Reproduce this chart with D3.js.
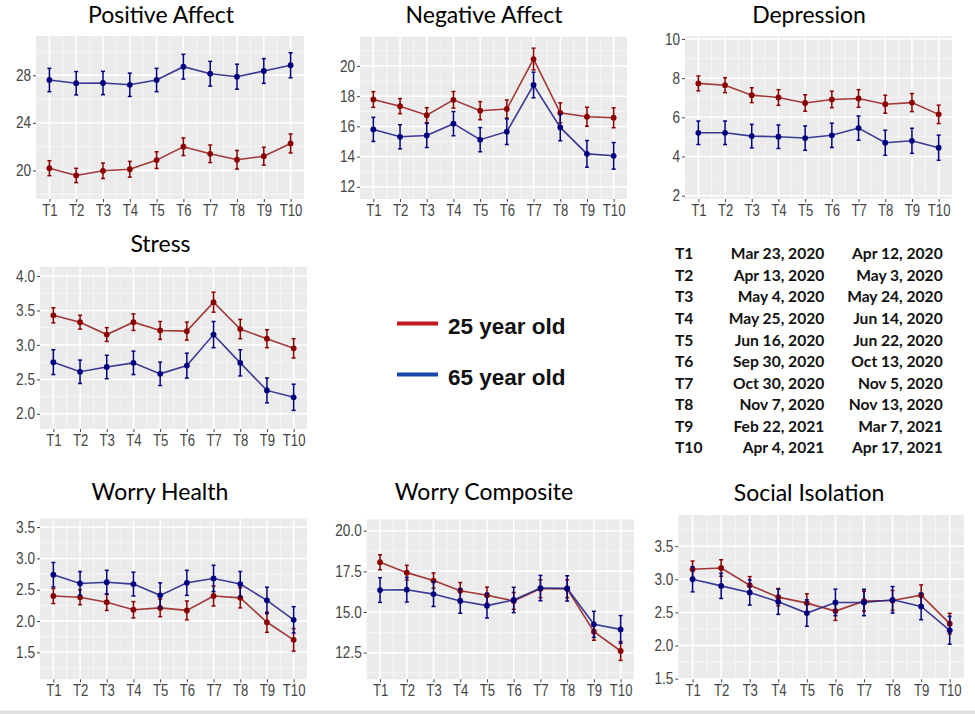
<!DOCTYPE html>
<html>
<head>
<meta charset="utf-8">
<script src="https://cdn.jsdelivr.net/npm/d3@7"></script>
<style>
  html, body { margin: 0; padding: 0; background: #ffffff; }
  svg { display: block; }
</style>
</head>
<body>
<svg id="chart" width="975" height="714"></svg>
<script>
// ---------------- DATA ----------------
const times = ["T1","T2","T3","T4","T5","T6","T7","T8","T9","T10"];
const groupLabels = ["25 year old", "65 year old"];

const posAff25    = [20.19,19.58,19.97,20.10,20.87,21.99,21.40,20.90,21.20,22.27];
const posAff25Err = [0.63,0.60,0.65,0.66,0.70,0.74,0.74,0.78,0.75,0.80];
const posAff65    = [27.60,27.33,27.35,27.20,27.60,28.72,28.13,27.88,28.36,28.84];
const posAff65Err = [0.98,0.98,0.98,0.98,0.98,1.04,1.04,1.05,1.04,1.05];

const negAff25    = [17.78,17.34,16.74,17.76,17.04,17.15,20.46,16.90,16.64,16.57];
const negAff25Err = [0.52,0.50,0.50,0.55,0.60,0.60,0.72,0.66,0.63,0.66];
const negAff65    = [15.80,15.31,15.40,16.18,15.12,15.65,18.74,15.93,14.18,14.05];
const negAff65Err = [0.80,0.80,0.80,0.80,0.80,0.85,0.85,0.88,0.88,0.88];

const dep25    = [7.73,7.64,7.13,7.01,6.73,6.91,6.96,6.67,6.75,6.15];
const dep25Err = [0.38,0.38,0.38,0.40,0.42,0.42,0.45,0.46,0.46,0.47];
const dep65    = [5.21,5.21,5.04,5.01,4.94,5.08,5.45,4.70,4.80,4.45];
const dep65Err = [0.60,0.60,0.60,0.60,0.62,0.62,0.62,0.64,0.64,0.64];

const stress25    = [3.43,3.33,3.15,3.33,3.21,3.20,3.62,3.23,3.09,2.95];
const stress25Err = [0.11,0.10,0.10,0.12,0.13,0.13,0.145,0.14,0.13,0.14];
const stress65    = [2.75,2.61,2.68,2.74,2.58,2.70,3.15,2.74,2.34,2.24];
const stress65Err = [0.18,0.17,0.17,0.17,0.17,0.18,0.19,0.19,0.18,0.19];

const worryH25    = [2.40,2.38,2.30,2.18,2.21,2.17,2.40,2.37,1.98,1.70];
const worryH25Err = [0.12,0.12,0.13,0.13,0.14,0.15,0.16,0.16,0.16,0.18];
const worryH65    = [2.74,2.60,2.62,2.59,2.41,2.61,2.68,2.59,2.33,2.02];
const worryH65Err = [0.195,0.19,0.19,0.19,0.20,0.20,0.21,0.20,0.21,0.21];

const worryC25    = [18.06,17.42,16.93,16.31,16.03,15.68,16.43,16.43,13.79,12.60];
const worryC25Err = [0.46,0.45,0.47,0.50,0.50,0.52,0.55,0.55,0.53,0.58];
const worryC65    = [16.35,16.37,16.10,15.68,15.39,15.74,16.47,16.45,14.24,13.93];
const worryC65Err = [0.76,0.76,0.76,0.76,0.76,0.78,0.78,0.78,0.80,0.85];

const socIso25    = [3.15,3.17,2.91,2.73,2.64,2.52,2.67,2.68,2.76,2.33];
const socIso25Err = [0.125,0.125,0.13,0.13,0.14,0.14,0.15,0.15,0.155,0.155];
const socIso65    = [3.00,2.90,2.80,2.66,2.49,2.65,2.65,2.69,2.59,2.23];
const socIso65Err = [0.19,0.19,0.19,0.19,0.20,0.20,0.20,0.20,0.20,0.21];

const paTicks = [20, 24, 28];
const naTicks = [12, 14, 16, 18, 20];
const depTicks = [2, 4, 6, 8, 10];
const stressTicks = [2.0, 2.5, 3.0, 3.5, 4.0];
const whTicks = [1.5, 2.0, 2.5, 3.0, 3.5];
const wcTicks = [12.5, 15.0, 17.5, 20.0];
const siTicks = [1.5, 2.0, 2.5, 3.0, 3.5];

const periodStart = ["Mar 23, 2020","Apr 13, 2020","May 4, 2020","May 25, 2020","Jun 16, 2020",
                     "Sep 30, 2020","Oct 30, 2020","Nov 7, 2020","Feb 22, 2021","Apr 4, 2021"];
const periodEnd   = ["Apr 12, 2020","May 3, 2020","May 24, 2020","Jun 14, 2020","Jun 22, 2020",
                     "Oct 13, 2020","Nov 5, 2020","Nov 13, 2020","Mar 7, 2021","Apr 17, 2021"];

// ---------------- LAYOUT / STYLE ----------------
const COL25 = "#8b0000", COL65 = "#00007f";
const LINE25 = "#9a2424", LINE65 = "#26268a";
const LEG25 = "#c4161c", LEG65 = "#1747ad";
const TICKFONT = "'Liberation Sans', Arial, sans-serif";
const TITLEFONT = "Lato, 'Open Sans', sans-serif";

const panels = [
  { title: "Positive Affect", tx: 161, ty: 22.5, box: [36, 304, 36, 199], yDom: [17.6, 31.3], ticks: paTicks, fmt: d3.format("d"),
    s25: posAff25, e25: posAff25Err, s65: posAff65, e65: posAff65Err },
  { title: "Negative Affect", tx: 484, ty: 23, box: [360, 627, 36.7, 199], yDom: [11.19, 21.94], ticks: naTicks, fmt: d3.format("d"),
    s25: negAff25, e25: negAff25Err, s65: negAff65, e65: negAff65Err },
  { title: "Depression", tx: 809, ty: 23, box: [685, 952, 36, 199], yDom: [1.83, 10.15], ticks: depTicks, fmt: d3.format("d"),
    s25: dep25, e25: dep25Err, s65: dep65, e65: dep65Err },
  { title: "Stress", tx: 160.5, ty: 252, box: [40, 307, 266.7, 429], yDom: [1.78, 4.135], ticks: stressTicks, fmt: d3.format(".1f"),
    s25: stress25, e25: stress25Err, s65: stress65, e65: stress65Err },
  { title: "Worry Health", tx: 160, ty: 500, box: [40, 307, 518.3, 679.3], yDom: [1.07, 3.64], ticks: whTicks, fmt: d3.format(".1f"),
    s25: worryH25, e25: worryH25Err, s65: worryH65, e65: worryH65Err },
  { title: "Worry Composite", tx: 484, ty: 500, box: [366.7, 634, 519.3, 679.3], yDom: [10.86, 20.7], ticks: wcTicks, fmt: d3.format(".1f"),
    s25: worryC25, e25: worryC25Err, s65: worryC65, e65: worryC65Err },
  { title: "Social Isolation", tx: 809, ty: 500.7, box: [678.3, 964, 515, 679.3], yDom: [1.49, 3.97], ticks: siTicks, fmt: d3.format(".1f"),
    s25: socIso25, e25: socIso25Err, s65: socIso65, e65: socIso65Err }
];

const svg = d3.select("#chart");

// bottom separator line
svg.append("rect").attr("x", 0).attr("y", 710.5).attr("width", 975).attr("height", 3.5).attr("fill", "#e2e2e2");

panels.forEach(p => {
  const [x0, x1, y0, y1] = p.box;
  const g = svg.append("g");
  const idx = d3.range(1, 11);
  const x = d3.scaleLinear().domain([0.5, 10.5]).range([x0, x1]);
  const y = d3.scaleLinear().domain(p.yDom).range([y1, y0]);

  // background
  g.append("rect").attr("x", x0).attr("y", y0).attr("width", x1 - x0).attr("height", y1 - y0).attr("fill", "#ebebeb");

  // minor grid
  const step = p.ticks[1] - p.ticks[0];
  const minorY = d3.range(p.ticks[0] - step / 2, p.ticks[p.ticks.length - 1] + step, step)
    .filter(v => v > p.yDom[0] && v < p.yDom[1]);
  g.selectAll(".mny").data(minorY).join("line")
    .attr("x1", x0).attr("x2", x1).attr("y1", d => y(d)).attr("y2", d => y(d))
    .attr("stroke", "#f7f7f7").attr("stroke-width", 0.8);
  const minorX = d3.range(1.5, 10.5, 1);
  g.selectAll(".mnx").data(minorX).join("line")
    .attr("y1", y0).attr("y2", y1).attr("x1", d => x(d)).attr("x2", d => x(d))
    .attr("stroke", "#f7f7f7").attr("stroke-width", 0.8);
  // major grid
  g.selectAll(".mjy").data(p.ticks).join("line")
    .attr("x1", x0).attr("x2", x1).attr("y1", d => y(d)).attr("y2", d => y(d))
    .attr("stroke", "#ffffff").attr("stroke-width", 1.5);
  g.selectAll(".mjx").data(idx).join("line")
    .attr("y1", y0).attr("y2", y1).attr("x1", d => x(d)).attr("x2", d => x(d))
    .attr("stroke", "#ffffff").attr("stroke-width", 1.5);

  // axes (ticks only, no domain line)
  const yAxis = d3.axisLeft(y).tickValues(p.ticks).tickFormat(p.fmt).tickSize(3).tickPadding(2);
  const ya = g.append("g").attr("transform", `translate(${x0},0)`).call(yAxis);
  const xAxis = d3.axisBottom(x).tickValues(idx).tickFormat((d, i) => times[i]).tickSize(3).tickPadding(2);
  const xa = g.append("g").attr("transform", `translate(0,${y1})`).call(xAxis);
  [ya, xa].forEach(a => {
    a.select(".domain").remove();
    a.selectAll(".tick line").attr("stroke", "#444").attr("stroke-width", 1);
    a.selectAll(".tick text").attr("fill", "#454545").style("font-family", TICKFONT).style("font-size", "16px");
  });
  // condense the tick labels horizontally
  ya.selectAll(".tick text").each(function() {
    const t = d3.select(this);
    const tx = +t.attr("x");
    t.attr("x", null).attr("transform", `translate(${tx},0) scale(0.85,1)`);
  });
  xa.selectAll(".tick text").attr("transform", "scale(0.82,1)").attr("dy", "0.74em");

  // series
  const series = [
    { v: p.s25, e: p.e25, pt: COL25, ln: LINE25 },
    { v: p.s65, e: p.e65, pt: COL65, ln: LINE65 }
  ];
  series.forEach(s => {
    const pts = s.v.map((v, i) => ({ i: i + 1, v, e: s.e[i] }));
    g.append("path").datum(pts)
      .attr("d", d3.line().x(d => x(d.i)).y(d => y(d.v)))
      .attr("fill", "none").attr("stroke", s.ln).attr("stroke-width", 1.6).attr("stroke-opacity", 0.9);
    const eb = g.append("g").attr("stroke", s.pt).attr("stroke-width", 1.5);
    eb.selectAll(".v").data(pts).join("line")
      .attr("x1", d => x(d.i)).attr("x2", d => x(d.i))
      .attr("y1", d => y(d.v - d.e)).attr("y2", d => y(d.v + d.e));
    eb.selectAll(".t").data(pts).join("line")
      .attr("x1", d => x(d.i) - 2).attr("x2", d => x(d.i) + 2)
      .attr("y1", d => y(d.v + d.e)).attr("y2", d => y(d.v + d.e));
    eb.selectAll(".b").data(pts).join("line")
      .attr("x1", d => x(d.i) - 2).attr("x2", d => x(d.i) + 2)
      .attr("y1", d => y(d.v - d.e)).attr("y2", d => y(d.v - d.e));
    g.selectAll(null).data(pts).join("circle")
      .attr("cx", d => x(d.i)).attr("cy", d => y(d.v)).attr("r", 2.9).attr("fill", s.pt);
  });

  // title
  svg.append("text").attr("x", p.tx).attr("y", p.ty).attr("text-anchor", "middle")
    .style("font-family", TITLEFONT).style("font-size", "23px").attr("fill", "#000")
    .text(p.title);
});

// ---------------- LEGEND ----------------
const legY = [323.5, 374.5];
const leg = svg.append("g");
groupLabels.forEach((lab, i) => {
  leg.append("line").attr("x1", 397).attr("x2", 438).attr("y1", legY[i]).attr("y2", legY[i])
    .attr("stroke", i === 0 ? LEG25 : LEG65).attr("stroke-width", 4);
  leg.append("text").attr("x", 448).attr("y", legY[i] + 10.5)
    .style("font-family", "'Liberation Sans', Arial, sans-serif").style("font-weight", "bold")
    .style("font-size", "22.5px").attr("fill", "#111").text(lab);
});

// ---------------- PERIOD TABLE ----------------
const tbl = svg.append("g").style("font-family", "Lato, 'Open Sans', sans-serif")
  .style("font-weight", "bold").style("font-size", "15.6px").attr("fill", "#111");
times.forEach((t, i) => {
  const yy = 259.3 + i * 21.56;
  tbl.append("text").attr("x", 675).attr("y", yy).text(t);
  tbl.append("text").attr("x", 824.3).attr("y", yy).attr("text-anchor", "end").text(periodStart[i]);
  tbl.append("text").attr("x", 942.7).attr("y", yy).attr("text-anchor", "end").text(periodEnd[i]);
});
</script>
</body>
</html>
